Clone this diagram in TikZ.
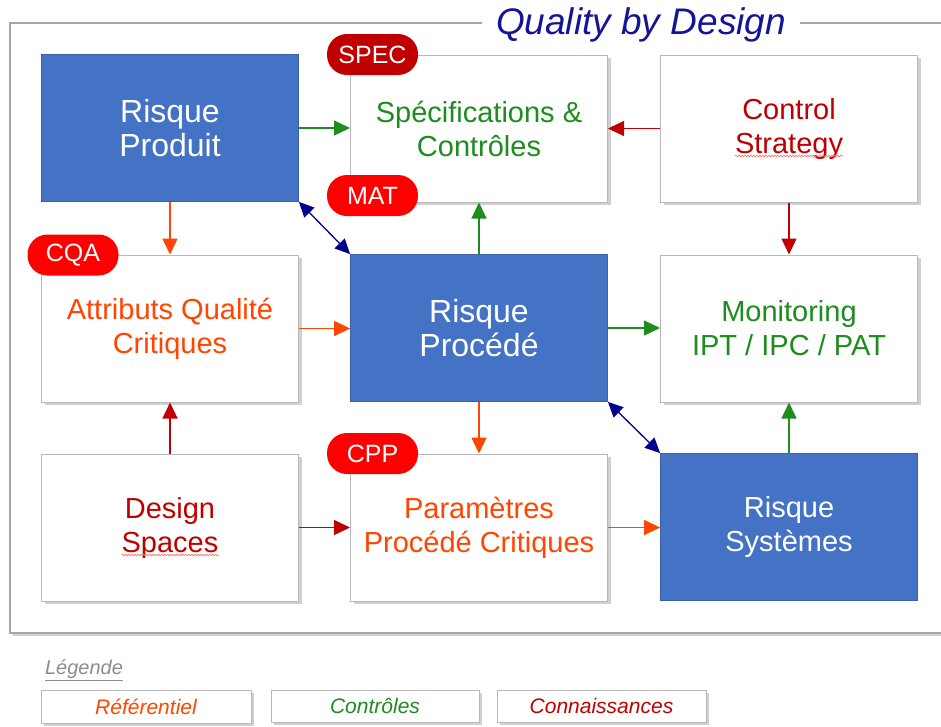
\documentclass[tikz,border=0pt]{standalone}
\usepackage{fontspec}
\setmainfont{Liberation Sans}
\usetikzlibrary{arrows.meta,shadows,decorations.pathmorphing}
\definecolor{qblue}{RGB}{68,114,196}
\definecolor{qgreen}{RGB}{30,140,30}
\definecolor{qdred}{RGB}{192,0,0}
\definecolor{qorange}{RGB}{255,69,0}
\definecolor{qred}{RGB}{255,0,0}
\definecolor{qnavy}{RGB}{0,0,140}
\definecolor{qtitle}{RGB}{20,20,150}
\definecolor{qborder}{RGB}{185,185,185}
\tikzset{
  shad/.style={drop shadow={shadow xshift=3pt,shadow yshift=-3pt,opacity=0.3,fill=black!60}},
  wbox/.style={draw=qborder,line width=1pt,fill=white,shad,minimum width=257pt,minimum height=147pt,align=center,inner sep=0pt,font=\fontsize{29}{34}\selectfont},
  bbox/.style={draw=qblue!85!black,line width=0.8pt,fill=qblue,minimum width=257pt,minimum height=147pt,align=center,inner sep=0pt,text=white,font=\fontsize{32}{34}\selectfont},
  tagbox/.style={rounded corners=20pt,minimum width=91pt,minimum height=41pt,inner sep=0pt,text=white,font=\fontsize{25}{25}\selectfont},
  legbox/.style={draw=qborder,line width=1pt,fill=white,shad,minimum width=209pt,minimum height=33pt,inner sep=0pt,font=\fontsize{21}{21}\selectfont\itshape},
  conn/.style={line width=1.3pt,-{Triangle[length=16pt,width=15pt]}},
  dconn/.style={line width=1.3pt,qnavy,{Triangle[length=15pt,width=14pt]}-{Triangle[length=15pt,width=14pt]}},
  squig/.style={draw=red!55,line width=0.7pt,decorate,decoration={snake,segment length=3pt,amplitude=0.8pt}}
}
\begin{document}
\begin{tikzpicture}[x=1pt,y=-1pt]
\useasboundingbox[fill=white] (0,0) rectangle (941,726);
% outer frame
\draw[draw=qborder!90!black,line width=1.2pt,fill=white,shad] (10,23) rectangle (970,633);
\node[fill=white,inner xsep=14pt,inner ysep=2pt,text=qtitle,font=\fontsize{37}{37}\selectfont\itshape] (title) at (641,25) {Quality by Design};
% boxes
\node[bbox] (rp) at (170,128) {Risque\\Produit};
\node[wbox,text=qgreen] (spec) at (479,128.5) {Spécifications \&\\Contrôles};
\node[wbox,text=qdred] (cs) at (789,128.5) {Control\\Strategy};
\node[wbox,text=qorange] (attr) at (170,328.5) {Attributs Qualité\\Critiques};
\node[bbox] (rproc) at (479,328) {Risque\\Procédé};
\node[wbox,text=qgreen] (mon) at (789,328.5) {Monitoring\\IPT / IPC / PAT};
\node[wbox,text=qdred] (ds) at (170,527.5) {Design\\Spaces};
\node[wbox,text=qorange] (cpp) at (479,527.5) {Paramètres\\Procédé Critiques};
\node[bbox,font=\fontsize{29}{34}\selectfont] (rsys) at (789,527) {Risque\\Systèmes};
% spell-check squiggles
\draw[squig] (735,156) -- (843,156);
\draw[squig] (122,555) -- (219,555);
% tags
\node[tagbox,fill=qdred] (tspec) at (372.5,54.5) {SPEC};
\node[tagbox,fill=qred] (tmat) at (372.5,195.5) {MAT};
\node[tagbox,fill=qred] (tcqa) at (73,255) {CQA};
\node[tagbox,fill=qred] (tcpp) at (372.5,453.5) {CPP};
% connectors
\draw[conn,qgreen] (rp.east) -- (rp.east -| spec.west);
\draw[conn,qdred] (cs.west) -- (cs.west -| spec.east);
\draw[conn,qorange] (rp.south) -- (attr.north);
\draw[conn,qgreen] (rproc.north) -- (spec.south);
\draw[conn,qdred] (cs.south) -- (mon.north);
\draw[conn,qorange] (attr.east) -- (attr.east -| rproc.west);
\draw[conn,qgreen] (rproc.east) -- (rproc.east -| mon.west);
\draw[conn,qdred] (ds.north) -- (attr.south);
\draw[conn,qorange] (rproc.south) -- (cpp.north);
\draw[conn,qgreen] (rsys.north) -- (mon.south);
\draw[conn,qdred] (ds.east) -- (ds.east -| cpp.west);
\draw[conn,qorange] (cpp.east) -- (cpp.east -| rsys.west);
\draw[dconn] (rp.south east) -- (rproc.north west);
\draw[dconn] (rproc.south east) -- (rsys.north west);
% legend
\node[text=black!45,font=\fontsize{20}{20}\selectfont\itshape] (leg) at (84,670) {\underline{Légende}};
\node[legbox,text=qorange,minimum width=210pt] (l1) at (146,706.5) {Référentiel};
\node[legbox,text=qgreen,minimum width=208pt,minimum height=32pt] (l2) at (375,706) {Contrôles};
\node[legbox,text=qdred,minimum height=32pt] (l3) at (601.5,706) {Connaissances};
\end{tikzpicture}
\end{document}
